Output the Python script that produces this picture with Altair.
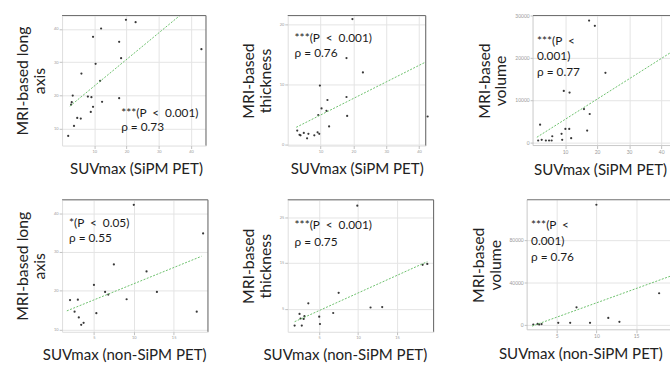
import altair as alt
import pandas as pd

FONT = "Lato"

# ---- data ----
p1_x = [1.9, 3.7, 4.7, 5.8, 3.3, 3.0, 2.8, 6.0, 8.0, 9.1, 8.9, 9.6, 10.4, 9.6, 12.1, 12.4, 11.8, 17.7, 18.3, 43.2, 19.8, 22.8, 17.7]
p1_y = [7.9, 10.9, 13.3, 13.1, 20.0, 18.0, 17.3, 26.6, 19.7, 19.5, 15.1, 16.6, 29.5, 37.6, 40.1, 18.1, 24.4, 19.2, 31.2, 33.9, 42.7, 42.0, 36.1]

p2_x = [2.9, 3.6, 3.9, 4.9, 5.9, 6.3, 8.1, 9.1, 9.6, 9.3, 10.3, 9.8, 11.8, 12.1, 12.6, 17.9, 17.9, 18.1, 22.9, 42.6, 19.7]
p2_y = [2.3, 1.6, 1.5, 1.9, 1.0, 1.75, 1.5, 2.0, 1.75, 4.9, 6.0, 9.8, 5.6, 7.4, 3.0, 14.4, 7.9, 4.75, 12.0, 4.65, 20.9]

p3_x = [17.5, 19.3, 22.6, 15.9, 2.2, 1.6, 2.7, 4.0, 5.0, 5.8, 6.0, 8.9, 9.1, 10.1, 11.3, 11.9, 9.6, 11.4, 17.7, 16.9]
p3_y = [28800, 27560, 16430, 7840, 4150, 400, 560, 400, 400, 400, 1400, 1970, 560, 3150, 3150, 940, 12140, 11740, 6670, 2750]

p4_x = [2.57, 2.98, 2.0, 3.1, 3.4, 3.7, 5.0, 5.3, 6.4, 6.8, 7.5, 9.1, 10.0, 11.6, 12.9, 17.9, 18.7]
p4_y = [14.6, 17.7, 17.6, 13.1, 11.2, 11.7, 21.5, 14.2, 19.7, 19.0, 26.8, 17.8, 42.2, 25.0, 19.7, 14.6, 34.8]

p5_x = [1.84, 2.47, 2.6, 2.76, 3.0, 3.1, 3.6, 5.0, 5.1, 6.8, 7.5, 9.9, 11.6, 13.1, 18.3, 18.9]
p5_y = [1.35, 3.9, 2.9, 1.35, 2.8, 3.4, 6.2, 3.3, 1.7, 4.1, 8.5, 27.5, 5.3, 5.4, 14.6, 14.8]

p6_x = [2.06, 2.6, 2.8, 3.1, 5.2, 6.7, 7.5, 9.2, 11.5, 12.9, 17.9, 10.0]
p6_y = [0, 650, 0, 370, 1580, 1580, 16200, 1580, 6230, 2500, 29500, 113000]

# regression line end points
fit1_x = [2.4, 36.9];  fit1_y = [16.8, 44.3]
fit2_x = [2.6, 42.6];  fit2_y = [2.85, 13.9]
fit3_x = [1.2, 44.3];  fit3_y = [1170, 21860]
fit4_x = [1.6, 18.5];  fit4_y = [14.8, 28.9]
fit5_x = [1.84, 18.9]; fit5_y = [2.2, 15.3]
fit6_x = [1.9, 19.27]; fit6_y = [-1500, 45480]

# tick values
ticks_sipm_x = [10, 20, 30, 40]
ticks_non_x = [5, 10, 15]
ticks_long_1 = [10, 20, 30, 40]
ticks_thick_1 = [0, 5, 10, 15, 20]
ticks_vol_1 = [0, 5000, 10000, 15000, 20000, 25000, 30000]
ticks_long_2 = [10, 15, 20, 25, 30, 35, 40]
ticks_thick_2 = [5, 10, 15, 20, 25]
ticks_vol_2 = [0, 20000, 40000, 60000, 80000, 100000]

notes = [
    ["***(P\u00a0\u00a0<\u00a0\u00a00.001)", "\u03c1 = 0.73"],
    ["***(P\u00a0\u00a0<\u00a0\u00a00.001)", "\u03c1 = 0.76"],
    ["***(P\u00a0\u00a0<", "0.001)", "\u03c1 = 0.77"],
    ["*(P\u00a0\u00a0<\u00a0\u00a00.05)", "\u03c1 = 0.55"],
    ["***(P\u00a0\u00a0<\u00a0\u00a00.001)", "\u03c1 = 0.75"],
    ["***(P\u00a0\u00a0<", "0.001)", "\u03c1 = 0.76"],
]

EDGE_LIGHT = "#c8c8c8"
EDGE_DARK = "#6f6f6f"


def panel(xs, ys, fx, fy, w, h, xdom, ydom, xticks, yticks, ytitle, xtitle,
          xtitle_x, note, nx, ny, lh, lfs, cut_right=False):
    pts = pd.DataFrame({"x": xs, "y": ys})
    fit = pd.DataFrame({"x": fx, "y": fy})
    xs_ = alt.Scale(domain=xdom, nice=False, zero=False)
    ys_ = alt.Scale(domain=ydom, nice=False, zero=False)
    common = dict(grid=True, gridColor="#e4e4e4", domain=False, tickSize=3,
                  tickColor="#c0c0c0", labelFontSize=lfs, labelColor="#9a9a9a",
                  labelPadding=1, labelOverlap=False, format="d", titleFont=FONT,
                  titleFontWeight="normal", titleColor="#222")
    xaxis = alt.Axis(values=xticks, title=xtitle, titleFontSize=15.3, titlePadding=8,
                     titleX=xtitle_x, **common)
    yaxis = alt.Axis(values=yticks, title=ytitle, titleFontSize=16, titlePadding=6,
                     titleLineHeight=17, **common)
    points = alt.Chart(pts).mark_circle(size=5, color="#222", opacity=0.9).encode(
        x=alt.X("x:Q", scale=xs_, axis=xaxis),
        y=alt.Y("y:Q", scale=ys_, axis=yaxis),
    )
    line = alt.Chart(fit).mark_line(color="#6cc06c", strokeDash=[2, 1.5],
                                    strokeWidth=1, clip=True).encode(
        x=alt.X("x:Q", scale=xs_), y=alt.Y("y:Q", scale=ys_))
    one = pd.DataFrame({"k": [0]})
    layers = [points, line]
    if cut_right:
        # panel runs off the picture: draw only left and bottom edges
        layers.append(alt.Chart(one).mark_rule(color=EDGE_LIGHT, strokeWidth=1)
                      .encode(x=alt.value(0)))
        layers.append(alt.Chart(one).mark_rule(color=EDGE_LIGHT, strokeWidth=1)
                      .encode(y=alt.value(h)))
    else:
        layers.append(alt.Chart(one).mark_rule(color=EDGE_DARK, strokeWidth=1)
                      .encode(x=alt.value(w)))
    layers.append(alt.Chart(one).mark_rule(color=EDGE_DARK, strokeWidth=1)
                  .encode(y=alt.value(0)))
    layers.append(alt.Chart(one).mark_text(align="left", baseline="alphabetic", font=FONT,
                                           fontSize=12, color="#1a1a1a", lineHeight=lh)
                  .encode(x=alt.value(nx), y=alt.value(ny), text=alt.value(note)))
    ch = alt.layer(*layers).properties(width=w, height=h)
    if cut_right:
        ch = ch.properties(view=alt.ViewBackground(stroke="transparent"))
    return ch


p1 = panel(p1_x, p1_y, fit1_x, fit1_y, 146, 132, [0, 44.6], [5, 44], ticks_sipm_x,
           ticks_long_1, ["MRI-based long", "axis"], "SUVmax (SiPM PET)", 75,
           notes[0], 60, 103, 14.5, 4)
p2 = panel(p2_x, p2_y, fit2_x, fit2_y, 140, 132, [0, 42], [-0.2, 21.5], ticks_sipm_x,
           ticks_thick_1, ["MRI-based", "thickness"], "SUVmax (SiPM PET)", 70,
           notes[1], 7, 27, 15, 4)
p3 = panel(p3_x, p3_y, fit3_x, fit3_y, 144, 132, [0, 44.3], [-800, 30000], ticks_sipm_x,
           ticks_vol_1, ["MRI-based", "volume"], "SUVmax (SiPM PET)", 68,
           notes[2], 4, 29.5, 16, 5, cut_right=True)
p4 = panel(p4_x, p4_y, fit4_x, fit4_y, 148, 134, [1, 19.3], [9.4, 43.5], ticks_non_x,
           ticks_long_2, ["MRI-based long", "axis"], "SUVmax (non-SiPM PET)", 63,
           notes[3], 7, 28, 15, 4)
p5 = panel(p5_x, p5_y, fit5_x, fit5_y, 148, 134, [0.95, 19.7], [0, 28.8], ticks_non_x,
           ticks_thick_2, ["MRI-based", "thickness"], "SUVmax (non-SiPM PET)", 58,
           notes[4], 7, 30, 16.5, 4)
p6 = panel(p6_x, p6_y, fit6_x, fit6_y, 145, 132, [1.28, 19.27], [-5000, 117700], ticks_non_x,
           ticks_vol_2, ["MRI-based", "volume"], "SUVmax (non-SiPM PET)", 54,
           notes[5], 4, 29.5, 16.5, 5, cut_right=True)

row1 = alt.hconcat(alt.hconcat(p1, p2, spacing=33), p3, spacing=46)
row2 = alt.hconcat(alt.hconcat(p4, p5, spacing=31), p6, spacing=35)

# the reference picture is cut off at its right edge: a negative right padding
# crops the rightmost panels the same way
chart = alt.vconcat(row1, row2, spacing=21).properties(
    padding={"left": 14, "top": 10, "right": -6, "bottom": 0},
    background="white",
).configure_view(stroke=EDGE_LIGHT, strokeWidth=1).configure(font=FONT)

chart.save("out.html", embed_options={"renderer": "svg", "actions": False})
